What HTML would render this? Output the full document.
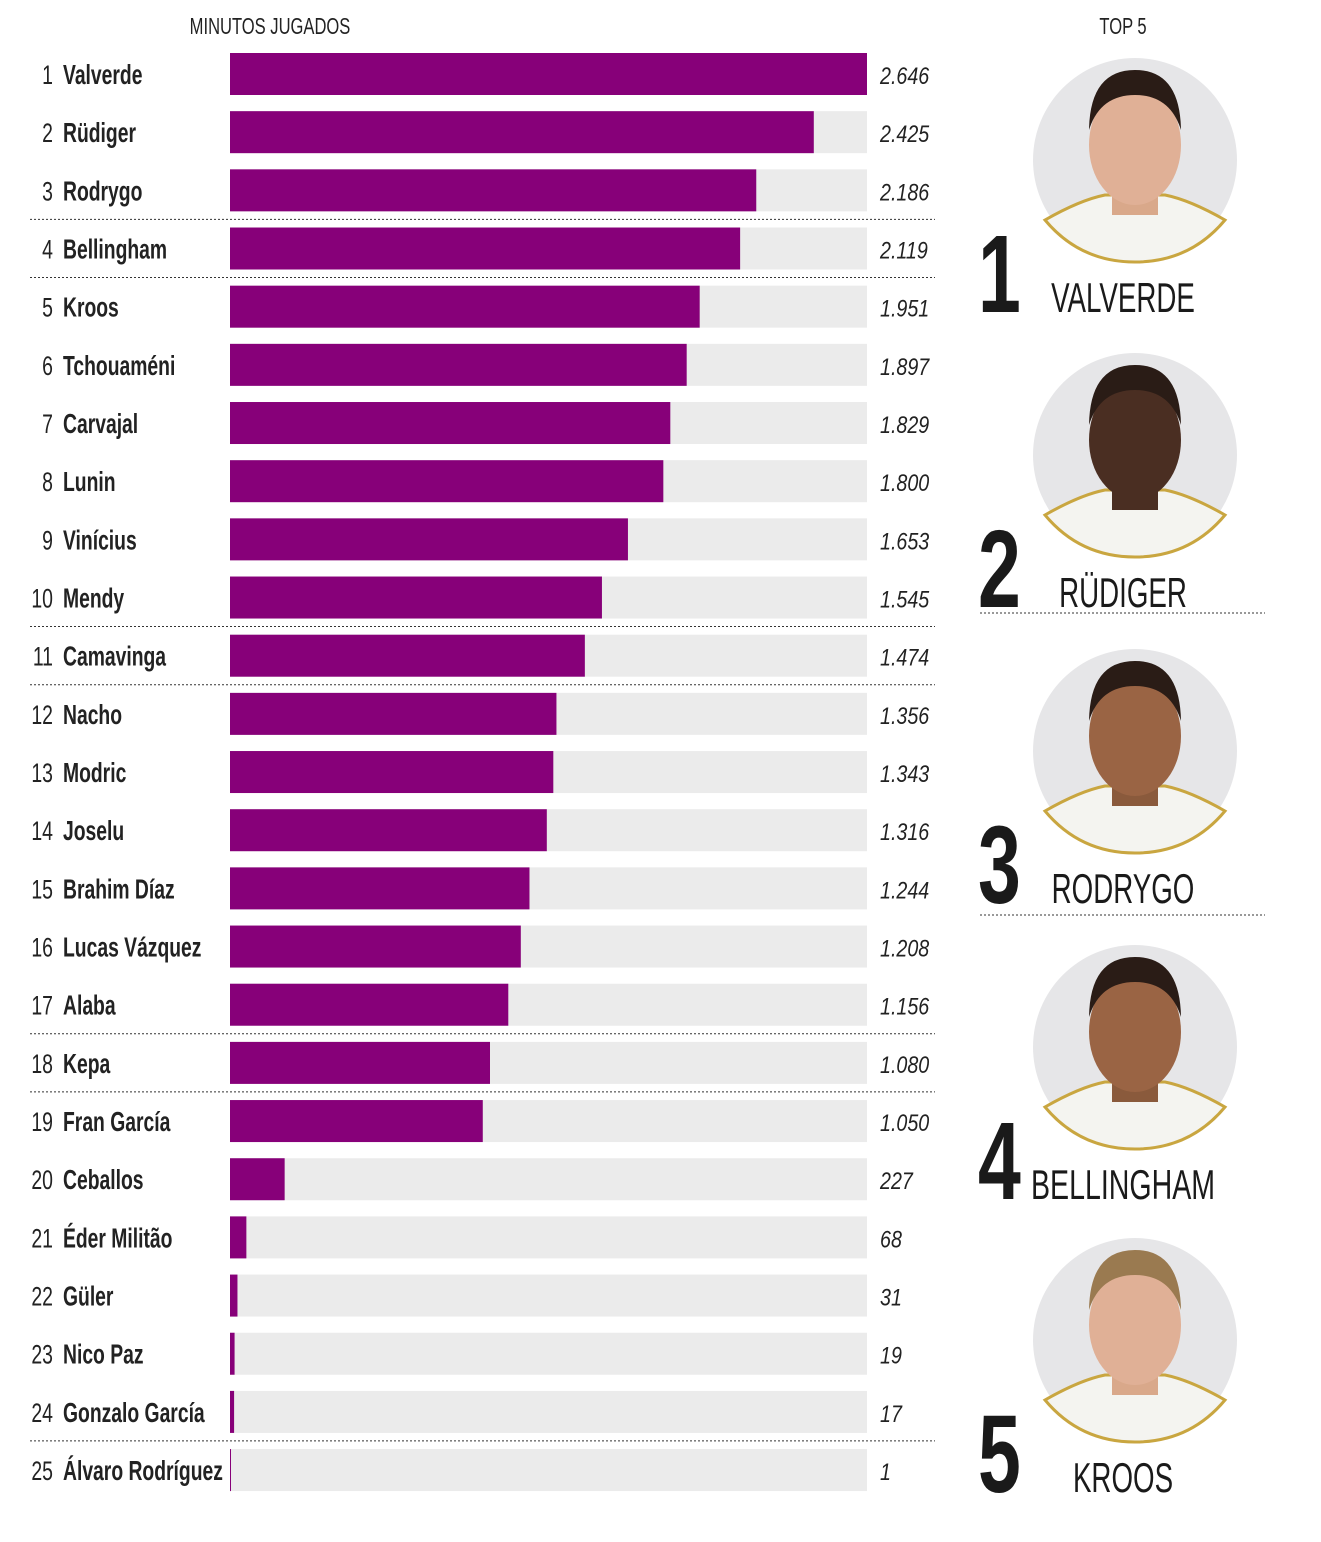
<!DOCTYPE html>
<html><head><meta charset="utf-8">
<style>
body{margin:0;background:#fff;width:1321px;height:1537px;overflow:hidden;font-family:"Liberation Sans",sans-serif;}
svg text{font-family:"Liberation Sans",sans-serif;}
</style></head><body>
<svg id="c" width="1321" height="1537"></svg>
<script>
const players=["Valverde","Rüdiger","Rodrygo","Bellingham","Kroos","Tchouaméni","Carvajal","Lunin","Vinícius","Mendy","Camavinga","Nacho","Modric","Joselu","Brahim Díaz","Lucas Vázquez","Alaba","Kepa","Fran García","Ceballos","Éder Militão","Güler","Nico Paz","Gonzalo García","Álvaro Rodríguez"];
const minutes=[2646,2425,2186,2119,1951,1897,1829,1800,1653,1545,1474,1356,1343,1316,1244,1208,1156,1080,1050,227,68,31,19,17,1];
const labels=["2.646","2.425","2.186","2.119","1.951","1.897","1.829","1.800","1.653","1.545","1.474","1.356","1.343","1.316","1.244","1.208","1.156","1.080","1.050","227","68","31","19","17","1"];
const separators=[3,4,10,11,17,18,24];
const top5=["VALVERDE","RÜDIGER","RODRYGO","BELLINGHAM","KROOS"];
const NS="http://www.w3.org/2000/svg";
const svg=document.getElementById('c');
function mk(t,a,txt){const e=document.createElementNS(NS,t);for(const k in a)e.setAttribute(k,a[k]);if(txt!==undefined)e.textContent=txt;svg.appendChild(e);return e;}
function tx(x,y,s,a,txt){a.x=0;a.y=0;a.transform=`translate(${x},${y}) scale(${s},1)`;return mk('text',a,txt);}
const x0=230,x1=867,maxV=2646;
const xs=v=>x0+(x1-x0)*v/maxV;
const ys=i=>53+i*58.17;
const bh=42;
let t=tx(270,34,0.72,{'font-size':23,'text-anchor':'middle',fill:'#222'},'MINUTOS JUGADOS');


t=tx(1123,34,0.72,{'font-size':23,'text-anchor':'middle',fill:'#222'},'TOP 5');


players.forEach((p,i)=>{
  const y=ys(i);
  let bg=mk('rect',{x:x0,y:y,width:x1-x0,height:bh,fill:'#ebebeb'});
  
  
  let b=mk('rect',{x:x0,y:y,width:Math.max(1,xs(minutes[i])-x0),height:bh,fill:'#870079'});
  
  
  let r=tx(53,y+31,0.72,{'font-size':27,'text-anchor':'end',fill:'#222'},String(i+1));
  
  
  let n=tx(63,y+31,0.69,{'font-size':28,'font-weight':'bold',fill:'#222'},p);
  
  
  let v=tx(880,y+31,0.82,{'font-size':24,'font-style':'italic',fill:'#222'},labels[i]);
  
  
  if(separators.includes(i+1)){
    let l=mk('line',{x1:30,x2:935,y1:y+bh+8,y2:y+bh+8,stroke:'#333','stroke-width':1,'stroke-dasharray':'2,2'});
    
    
  }
});
const cy=[160,455,751,1047,1340];
top5.forEach((nm,i)=>{
  const c=cy[i];
  let ci=mk('circle',{cx:1135,cy:c,r:102,fill:'#e6e6e8'});
  
  
  let body=mk('path',{d:`M1045 ${c+60} Q1080 ${c+40} 1105 ${c+35} L1165 ${c+35} Q1190 ${c+40} 1225 ${c+60} Q1190 ${c+102} 1135 ${c+102} Q1080 ${c+102} 1045 ${c+60}Z`,fill:'#f4f4f0',stroke:'#c9a640','stroke-width':3});
  
  
  let neck=mk('rect',{x:1112,y:c+5,width:46,height:50,fill:i==1?'#4a2e22':(i==2||i==3?'#8a5a3c':'#d9a88a')});
  
  
  let face=mk('ellipse',{cx:1135,cy:c-15,rx:46,ry:60,fill:i==1?'#4a2e22':(i==2||i==3?'#9a6444':'#e0b096')});
  
  
  let hair=mk('path',{d:`M1089 ${c-30} Q1090 ${c-90} 1135 ${c-90} Q1180 ${c-90} 1181 ${c-30} Q1170 ${c-65} 1135 ${c-65} Q1100 ${c-65} 1089 ${c-30}Z`,fill:i==4?'#9a7a50':'#2a1c16'});
  
  
  let num=tx(978,c+152,0.7,{'font-size':110,'font-weight':'bold',fill:'#1a1a1a'},String(i+1));
  
  
  let nt=i==3?tx(1031,c+152,0.68,{'font-size':42,fill:'#1a1a1a'},nm):tx(1123,c+152,0.66,{'font-size':42,'text-anchor':'middle',fill:'#1a1a1a'},nm);
  
  
});
[613,915].forEach(y=>{
  let l=mk('line',{x1:980,x2:1265,y1:y,y2:y,stroke:'#333','stroke-width':1,'stroke-dasharray':'2,2'});
  
  
});
</script>
</body></html>
